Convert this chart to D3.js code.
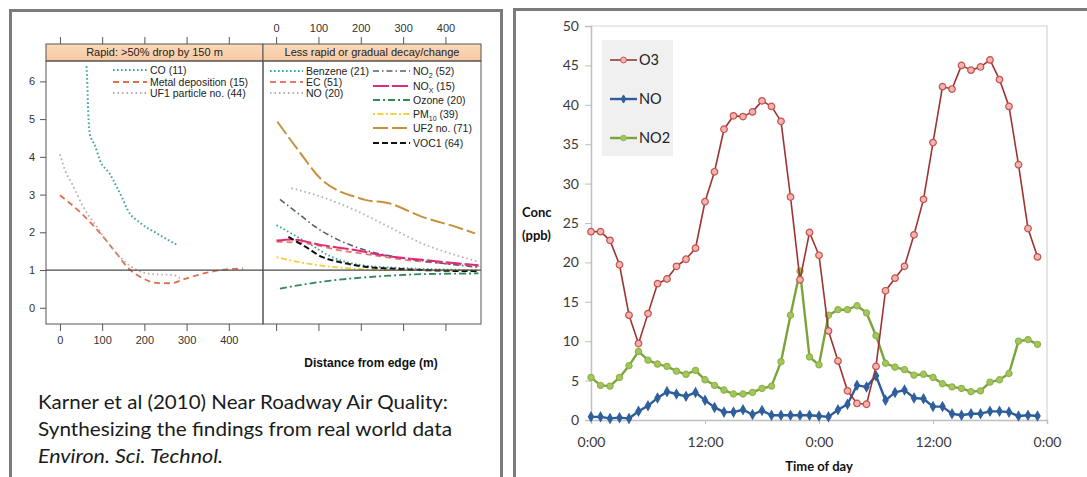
<!DOCTYPE html>
<html>
<head>
<meta charset="utf-8">
<script src="https://cdn.jsdelivr.net/npm/d3@7/dist/d3.min.js"></script>
<style>
    body { margin: 0; background: #fff; }
    svg { display: block; }
</style>
</head>
<body>
<div id="chart"></div>
<script>
// ---- left figure: concentration ratio vs distance from road edge ----
const distTicks = [0, 100, 200, 300, 400];
const ratioTicks = [0, 1, 2, 3, 4, 5, 6];
const stripTitles = ["Rapid: >50% drop by 150 m", "Less rapid or gradual decay/change"];

// [distance (m), ratio]
const coCurve = [[63, 6.4], [65, 5.9], [67, 5.2], [71, 4.6], [83, 4.3], [95, 3.9], [118, 3.55],
    [137, 3.15], [150, 2.85], [160, 2.6], [190, 2.25], [230, 1.97], [280, 1.65]];
const metalCurve = [[0, 2.98], [51, 2.5], [95, 1.98], [134, 1.44], [162, 1.05], [190, 0.82],
    [229, 0.66], [261, 0.65], [300, 0.78], [348, 0.93], [395, 1.02], [434, 1.04]];
const uf1Curve = [[0, 4.07], [12, 3.65], [28, 3.3], [55, 2.68], [87, 2.15], [118, 1.66],
    [154, 1.22], [182, 1.0], [221, 0.89], [268, 0.87], [284, 0.78]];

const benzeneCurve = [[1, 2.19], [36, 1.97], [76, 1.71], [131, 1.35], [202, 1.13], [305, 1.05], [478, 1.0]];
const ecCurve = [[1, 1.75], [69, 1.71], [147, 1.53], [226, 1.4], [305, 1.27], [392, 1.18], [478, 1.1]];
const noCurve = [[36, 3.17], [107, 2.94], [186, 2.59], [265, 2.15], [344, 1.71], [423, 1.4], [478, 1.22]];
const no2Curve = [[9, 2.87], [52, 2.5], [92, 2.15], [147, 1.8], [210, 1.53], [304, 1.31], [392, 1.18], [478, 1.07]];
const noxCurve = [[1, 1.78], [36, 1.81], [108, 1.66], [186, 1.53], [265, 1.37], [345, 1.27], [478, 1.13]];
const ozoneCurve = [[9, 0.51], [108, 0.69], [226, 0.82], [345, 0.89], [478, 0.91]];
const pm10Curve = [[1, 1.34], [69, 1.18], [147, 1.07], [265, 1.0], [478, 0.99]];
const uf2Curve = [[3, 4.93], [52, 4.18], [108, 3.39], [147, 3.1], [187, 2.94], [210, 2.86],
    [266, 2.77], [345, 2.41], [423, 2.15], [470, 1.97]];
const voc1Curve = [[29, 1.88], [69, 1.62], [108, 1.35], [147, 1.22], [210, 1.09], [305, 1.02], [407, 0.98], [478, 0.97]];

// ---- right figure: hourly concentrations over two days ----
const hourTicks = [0, 12, 24, 36, 48];
const hourTickLabels = ["0:00", "12:00", "0:00", "12:00", "0:00"];
const concTicks = [0, 5, 10, 15, 20, 25, 30, 35, 40, 45, 50];
const o3Values = [23.9, 23.9, 22.8, 19.7, 13.3, 9.7, 13.5, 17.3, 17.9, 19.5, 20.4, 21.8,
    27.7, 31.5, 36.9, 38.6, 38.5, 39.1, 40.5, 39.8, 37.9, 28.3, 17.8, 23.8,
    20.9, 11.3, 7.5, 3.7, 2.1, 2.0, 6.8, 16.4, 18.0, 19.5, 23.5, 28.0,
    35.2, 42.3, 42.0, 45.0, 44.4, 44.8, 45.7, 43.2, 39.8, 32.4, 24.3, 20.7];
const noValues = [0.4, 0.4, 0.2, 0.3, 0.2, 1.1, 1.8, 2.8, 3.6, 3.3, 3.0, 3.5,
    2.5, 1.6, 1.0, 1.0, 1.3, 0.7, 1.2, 0.6, 0.6, 0.6, 0.6, 0.6,
    0.5, 0.4, 1.3, 2.0, 4.4, 4.2, 5.6, 2.5, 3.5, 3.8, 2.8, 2.7,
    1.7, 1.7, 0.8, 0.6, 0.8, 0.8, 1.1, 1.1, 1.0, 0.5, 0.6, 0.5];
const no2Values = [5.4, 4.4, 4.3, 5.4, 6.9, 8.7, 7.6, 7.1, 6.8, 6.2, 5.8, 6.3,
    5.1, 4.4, 3.8, 3.3, 3.3, 3.5, 4.0, 4.3, 7.4, 13.3, 18.9, 8.0,
    7.0, 13.3, 14.0, 14.0, 14.5, 13.6, 10.7, 7.2, 6.7, 6.4, 5.7, 5.8,
    5.4, 4.6, 4.2, 4.0, 3.6, 3.7, 4.8, 5.1, 5.9, 10.0, 10.2, 9.6];

const W = 1087, H = 477;
const svg = d3.select("#chart")
    .append("svg")
    .attr("width", W)
    .attr("height", H);

svg.append("rect").attr("width", W).attr("height", H).attr("fill", "#fff");

// picture frames
svg.append("rect")
    .attr("x", 10.5).attr("y", 10.5).attr("width", 491).attr("height", 500)
    .attr("fill", "none").attr("stroke", "#7b7b7b").attr("stroke-width", 3);
svg.append("rect")
    .attr("x", 514.5).attr("y", 9.5).attr("width", 600).attr("height", 500)
    .attr("fill", "none").attr("stroke", "#7b7b7b").attr("stroke-width", 3);

// ================= lattice figure =================
const latFont = "'Liberation Sans', Arial, sans-serif";
const y = d3.scaleLinear().domain([-0.43, 6.54]).range([324, 61]);
const x1 = d3.scaleLinear().domain([-33, 481]).range([46, 263]);
const x2 = d3.scaleLinear().domain([-31, 484]).range([263, 481]);
const stripTop = 44, stripBottom = 61;

const lat = svg.append("g").style("font-family", latFont);

const grad = svg.append("defs").append("linearGradient")
    .attr("id", "strip").attr("x1", 0).attr("x2", 0).attr("y1", 0).attr("y2", 1);
grad.append("stop").attr("offset", 0).attr("stop-color", "#fbd9bb");
grad.append("stop").attr("offset", 1).attr("stop-color", "#f7c9a2");

const clip = svg.select("defs");
[x1, x2].forEach((xs, i) => {
    clip.append("clipPath").attr("id", "panel" + i)
        .append("rect")
        .attr("x", xs.range()[0]).attr("y", y.range()[1])
        .attr("width", xs.range()[1] - xs.range()[0])
        .attr("height", y.range()[0] - y.range()[1]);
});

const panels = [
    {
        xs: x1,
        series: [
            { name: "CO (11)", data: coCurve, color: "#3ea69c", dash: "1.6,2.4", width: 2 },
            { name: "Metal deposition (15)", data: metalCurve, color: "#e56f4c", dash: "6,4", width: 1.8 },
            { name: "UF1 particle no. (44)", data: uf1Curve, color: "#bda9ab", dash: "1.5,3", width: 1.8 }
        ]
    },
    {
        xs: x2,
        series: [
            { name: "Benzene (21)", data: benzeneCurve, color: "#2fa69c", dash: "1.6,2.4", width: 1.8 },
            { name: "EC (51)", data: ecCurve, color: "#e27b68", dash: "6,4", width: 1.8 },
            { name: "NO (20)", data: noCurve, color: "#b9a9b1", dash: "1.5,3", width: 1.8 },
            { name: "NO|2| (52)", data: no2Curve, color: "#55606a", dash: "6,3,1.5,3", width: 1.6 },
            { name: "NO|X| (15)", data: noxCurve, color: "#e0297c", dash: "16,3", width: 2 },
            { name: "Ozone (20)", data: ozoneCurve, color: "#2f8a55", dash: "7,3,2,3", width: 1.8 },
            { name: "PM|10| (39)", data: pm10Curve, color: "#f2d040", dash: "2,2.5,6,2.5", width: 1.8 },
            { name: "UF2 no. (71)", data: uf2Curve, color: "#c7913b", dash: "15,4", width: 2 },
            { name: "VOC1 (64)", data: voc1Curve, color: "#111111", dash: "6,3", width: 2 }
        ]
    }
];

panels.forEach((p, i) => {
    const xs = p.xs;
    const left = xs.range()[0], right = xs.range()[1];

    // strip
    lat.append("rect")
        .attr("x", left).attr("y", stripTop)
        .attr("width", right - left).attr("height", stripBottom - stripTop)
        .attr("fill", "url(#strip)").attr("stroke", "#555").attr("stroke-width", 1);
    lat.append("text")
        .attr("x", (left + right) / 2).attr("y", (stripTop + stripBottom) / 2)
        .attr("dy", "0.36em").attr("text-anchor", "middle")
        .attr("font-size", 11).attr("fill", "#222")
        .text(stripTitles[i]);

    // curves
    const line = d3.line()
        .x(d => xs(d[0]))
        .y(d => y(d[1]))
        .curve(d3.curveMonotoneX);
    lat.append("g")
        .attr("clip-path", "url(#panel" + i + ")")
        .selectAll("path")
        .data(p.series)
        .enter()
        .append("path")
        .attr("d", d => line(d.data))
        .attr("fill", "none")
        .attr("stroke", d => d.color)
        .attr("stroke-width", d => d.width)
        .attr("stroke-dasharray", d => d.dash);

    // reference line at ratio 1
    lat.append("line")
        .attr("x1", left).attr("x2", right)
        .attr("y1", y(1)).attr("y2", y(1))
        .attr("stroke", "#4a4a4a").attr("stroke-width", 1.2);

    // panel box
    lat.append("rect")
        .attr("x", left).attr("y", stripBottom)
        .attr("width", right - left).attr("height", y.range()[0] - stripBottom)
        .attr("fill", "none").attr("stroke", "#555").attr("stroke-width", 1);

    // axes: labels alternate bottom (panel 1) / top (panel 2)
    const bottom = lat.append("g")
        .attr("transform", "translate(0," + y.range()[0] + ")")
        .call(d3.axisBottom(xs).tickValues(distTicks).tickSize(7).tickPadding(5)
            .tickFormat(i === 0 ? d3.format("d") : () => ""));
    const top = lat.append("g")
        .attr("transform", "translate(0," + stripTop + ")")
        .call(d3.axisTop(xs).tickValues(distTicks).tickSize(7).tickPadding(5)
            .tickFormat(i === 1 ? d3.format("d") : () => ""));
    [bottom, top].forEach(g => {
        g.select(".domain").remove();
        g.selectAll("line").attr("stroke", "#555");
        g.selectAll("text").attr("font-size", 11).attr("fill", "#333").style("font-family", latFont);
    });
});

const yAx = lat.append("g")
    .attr("transform", "translate(" + x1.range()[0] + ",0)")
    .call(d3.axisLeft(y).tickValues(ratioTicks).tickSize(6).tickPadding(5)
        .tickFormat(d3.format("d")));
yAx.select(".domain").remove();
yAx.selectAll("line").attr("stroke", "#555");
yAx.selectAll("text").attr("font-size", 11).attr("fill", "#333").style("font-family", latFont);

// legends
function legendLabel(sel, name) {
    const parts = name.split("|");
    sel.append("tspan").text(parts[0]);
    if (parts.length > 1) {
        sel.append("tspan").attr("font-size", 7).attr("dy", 3).text(parts[1]);
        sel.append("tspan").attr("dy", -3).text(parts[2]);
    }
}

const legendSpots = [
    { panel: 0, from: 0, to: 3, x0: 113, x1: 147, ys: [70, 82, 93] },
    { panel: 1, from: 0, to: 3, x0: 270, x1: 303, ys: [71, 82, 93] },
    { panel: 1, from: 3, to: 9, x0: 373, x1: 410, ys: [71, 86, 100, 114, 128, 143] }
];
legendSpots.forEach(spot => {
    panels[spot.panel].series.slice(spot.from, spot.to).forEach((s, k) => {
        const yy = spot.ys[k];
        lat.append("line")
            .attr("x1", spot.x0).attr("x2", spot.x1)
            .attr("y1", yy).attr("y2", yy)
            .attr("stroke", s.color).attr("stroke-width", s.width)
            .attr("stroke-dasharray", s.dash);
        lat.append("text")
            .attr("x", spot.x1 + 3).attr("y", yy).attr("dy", "0.35em")
            .attr("font-size", 10.5).attr("fill", "#222")
            .call(legendLabel, s.name);
    });
});

lat.append("text")
    .attr("x", 371).attr("y", 363).attr("dy", "0.35em")
    .attr("text-anchor", "middle")
    .attr("font-size", 12).attr("font-weight", "bold").attr("fill", "#111")
    .text("Distance from edge (m)");

// citation
const captionLines = [
    { text: "Karner et al (2010) Near Roadway Air Quality:", y: 409, len: 410, italic: false },
    { text: "Synthesizing the findings from real world data", y: 436, len: 414, italic: false },
    { text: "Environ. Sci. Technol.", y: 463, len: 185, italic: true }
];
svg.append("g")
    .selectAll("text")
    .data(captionLines)
    .enter()
    .append("text")
    .attr("x", 38)
    .attr("y", d => d.y)
    .attr("textLength", d => d.len)
    .attr("lengthAdjust", "spacingAndGlyphs")
    .attr("font-family", "Lato, 'Open Sans', sans-serif")
    .attr("font-size", 20)
    .attr("font-style", d => d.italic ? "italic" : "normal")
    .attr("fill", "#1a1a1a")
    .text(d => d.text);

// ================= Excel-style line chart =================
const xlFont = "Lato, 'Open Sans', sans-serif";
const hx = d3.scaleLinear().domain([0, 48]).range([591, 1047]);
const cy = d3.scaleLinear().domain([0, 50]).range([420, 26]);
const xl = svg.append("g").style("font-family", xlFont);

// plot area border
xl.append("path")
    .attr("d", "M" + hx(0) + "," + cy(50) + "H" + hx(48) + "V" + cy(0))
    .attr("fill", "none").attr("stroke", "#d4d4d4").attr("stroke-width", 1.2);

const yAxis = xl.append("g")
    .attr("transform", "translate(" + hx(0) + ",0)")
    .call(d3.axisLeft(cy).tickValues(concTicks).tickSize(6).tickPadding(6));
const xAxis = xl.append("g")
    .attr("transform", "translate(0," + cy(0) + ")")
    .call(d3.axisBottom(hx).tickValues(hourTicks).tickSize(4).tickPadding(13)
        .tickFormat((d, i) => hourTickLabels[i]));
[yAxis, xAxis].forEach(g => {
    g.select(".domain").attr("stroke", "#bfbfbf").attr("stroke-width", 1.5);
    g.selectAll("line").attr("stroke", "#bfbfbf");
    g.selectAll("text").attr("font-size", 14).attr("fill", "#3a3a3a").style("font-family", xlFont);
});

const hours = d3.range(o3Values.length);
const xlSeries = [
    { name: "O3", values: o3Values, line: "#9c3532", lineW: 1.6, fill: "#f3b3ae", stroke: "#c4514c", symbol: d3.symbolCircle, size: 34 },
    { name: "NO", values: noValues, line: "#2d5c97", lineW: 2.4, fill: "#2f609c", stroke: "#2f609c", symbol: d3.symbolDiamond, size: 24 },
    { name: "NO2", values: no2Values, line: "#7aa33b", lineW: 2.4, fill: "#a3c65d", stroke: "#8fb34b", symbol: d3.symbolCircle, size: 30 }
];
const xlLine = d3.line().x(d => hx(d[0])).y(d => cy(d[1]));

// draw NO2 first, then NO, then O3 on top
[2, 1, 0].forEach(k => {
    const s = xlSeries[k];
    const pts = hours.map(h => [h, s.values[h]]);
    xl.append("path")
        .attr("d", xlLine(pts))
        .attr("fill", "none")
        .attr("stroke", s.line)
        .attr("stroke-width", s.lineW)
        .attr("stroke-linejoin", "round");
    xl.append("g")
        .selectAll("path")
        .data(pts)
        .enter()
        .append("path")
        .attr("transform", d => "translate(" + hx(d[0]) + "," + cy(d[1]) + ")")
        .attr("d", d3.symbol().type(s.symbol).size(s.size))
        .attr("fill", s.fill)
        .attr("stroke", s.stroke)
        .attr("stroke-width", 1.2);
});

// legend
xl.append("rect")
    .attr("x", 602).attr("y", 40).attr("width", 71).attr("height", 116)
    .attr("fill", "#f0f0f0");
const legY = [60, 99, 138];
xlSeries.forEach((s, k) => {
    xl.append("line")
        .attr("x1", 610).attr("x2", 637)
        .attr("y1", legY[k]).attr("y2", legY[k])
        .attr("stroke", s.line).attr("stroke-width", s.lineW);
    xl.append("path")
        .attr("transform", "translate(623.5," + legY[k] + ")")
        .attr("d", d3.symbol().type(s.symbol).size(s.size * 0.8))
        .attr("fill", s.fill).attr("stroke", s.stroke).attr("stroke-width", 1);
    xl.append("text")
        .attr("x", 639).attr("y", legY[k]).attr("dy", "0.36em")
        .attr("font-size", 14.5).attr("fill", "#222")
        .text(s.name);
});

xl.append("text")
    .attr("x", 522).attr("y", 212).attr("dy", "0.35em")
    .attr("font-size", 13).attr("font-weight", "bold").attr("fill", "#111")
    .text("Conc");
xl.append("text")
    .attr("x", 522).attr("y", 235).attr("dy", "0.35em")
    .attr("font-size", 13).attr("font-weight", "bold").attr("fill", "#111")
    .text("(ppb)");
xl.append("text")
    .attr("x", 819).attr("y", 466).attr("dy", "0.35em")
    .attr("text-anchor", "middle")
    .attr("font-size", 13).attr("font-weight", "bold").attr("fill", "#111")
    .text("Time of day");
</script>
</body>
</html>
